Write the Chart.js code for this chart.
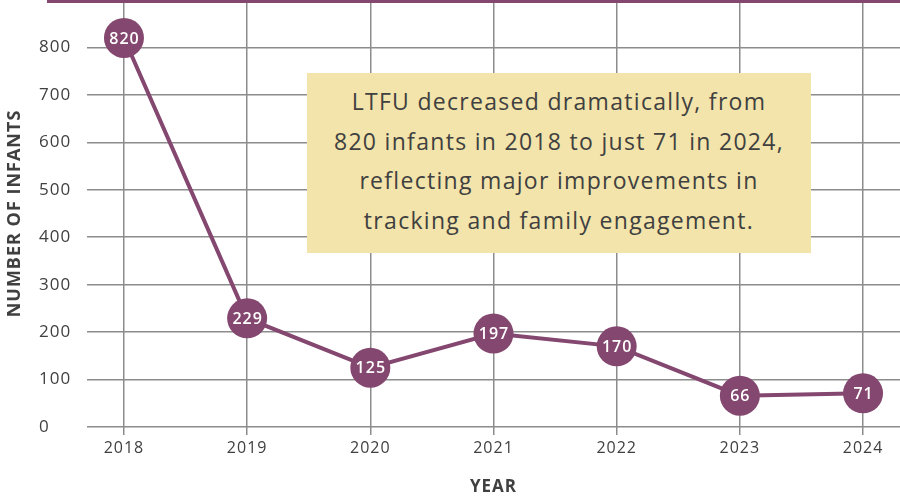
<!DOCTYPE html>
<html>
<head>
<meta charset="utf-8">
<script src="https://cdn.jsdelivr.net/npm/chart.js@4"></script>
<style>
  html, body { margin: 0; padding: 0; background: #fff; }
  #wrap { position: relative; width: 900px; height: 497px; }
  #note {
    position: absolute; left: 307px; top: 73px; width: 504px; height: 180px;
    box-sizing: border-box; padding-top: 9px;
    background: #f2e4ab; color: #404040;
    font-family: 'Open Sans', sans-serif; font-size: 23px; line-height: 39.5px;
    letter-spacing: 1.3px; text-align: center;
  }
</style>
</head>
<body>
<div id="wrap">
  <canvas id="chart" width="900" height="497"></canvas>
  <div id="note">LTFU decreased dramatically, from<br>820 infants in 2018 to just 71 in 2024,<br>reflecting major improvements in<br>tracking and family engagement.</div>
</div>
<script>
  // LTFU infants by year
  const years = [2018, 2019, 2020, 2021, 2022, 2023, 2024];
  const infants = [820, 229, 125, 197, 170, 66, 71];
  const yTicks = [0, 100, 200, 300, 400, 500, 600, 700, 800];

  const PURPLE = '#84476f';
  const GRID = '#8c8c8c';
  const TEXT = '#404040';
  const FONT = "'Open Sans', sans-serif";

  // wider lettering, white value labels in the markers, purple rule on top
  const decorations = {
    id: 'decorations',
    beforeDraw(chart) {
      chart.ctx.letterSpacing = '1px';
    },
    afterDatasetsDraw(chart) {
      const ctx = chart.ctx;
      const meta = chart.getDatasetMeta(0);
      ctx.save();
      ctx.fillStyle = '#fff';
      ctx.font = '600 16px ' + FONT;
      ctx.textAlign = 'center';
      ctx.textBaseline = 'middle';
      meta.data.forEach((pt, i) => {
        ctx.fillText(String(infants[i]), pt.x + 0.5, pt.y + 1);
      });
      ctx.restore();
    },
    afterDraw(chart) {
      const ctx = chart.ctx;
      ctx.save();
      ctx.fillStyle = PURPLE;
      ctx.fillRect(47, 0, chart.width - 47, 3);
      ctx.restore();
    }
  };

  new Chart(document.getElementById('chart'), {
    type: 'line',
    data: {
      datasets: [{
        data: years.map((y, i) => ({ x: y, y: infants[i] })),
        borderColor: PURPLE,
        borderWidth: 4,
        backgroundColor: PURPLE,
        pointRadius: 20,
        pointHoverRadius: 20,
        pointBorderWidth: 0,
        tension: 0
      }]
    },
    options: {
      responsive: false,
      animation: false,
      layout: { autoPadding: false, padding: { left: 39, right: 0, top: 0, bottom: 0 } },
      plugins: {
        legend: { display: false },
        tooltip: { enabled: false }
      },
      scales: {
        x: {
          type: 'linear',
          min: 2017.7,
          max: 2024.3,
          afterBuildTicks: axis => { axis.ticks = years.map(v => ({ value: v })); },
          afterFit: scale => { scale.height = 70; },
          border: { display: false },
          grid: { color: GRID, lineWidth: 1.5, tickLength: 8 },
          ticks: {
            color: TEXT, padding: 4,
            font: { family: FONT, size: 16 },
            callback: v => String(v)
          },
          title: {
            display: true, text: 'YEAR', color: TEXT,
            font: { family: FONT, size: 17, weight: 'bold' },
            padding: { top: 0, bottom: 0 }
          }
        },
        y: {
          min: 0,
          max: 900,
          afterBuildTicks: axis => { axis.ticks = yTicks.map(v => ({ value: v })); },
          afterFit: scale => {
            scale.width = 48;
            scale.paddingTop = 0;
            scale.paddingBottom = 0;
          },
          border: { display: false },
          grid: { color: GRID, lineWidth: 1.5, drawTicks: false },
          ticks: {
            color: TEXT, crossAlign: 'far',
            font: { family: FONT, size: 17 },
            callback: v => String(v)
          },
          title: {
            display: true, text: 'NUMBER OF INFANTS', color: TEXT,
            font: { family: FONT, size: 18, weight: 'bold' },
            padding: { top: -35, bottom: 0 }
          }
        }
      }
    },
    plugins: [decorations]
  });
</script>
</body>
</html>
